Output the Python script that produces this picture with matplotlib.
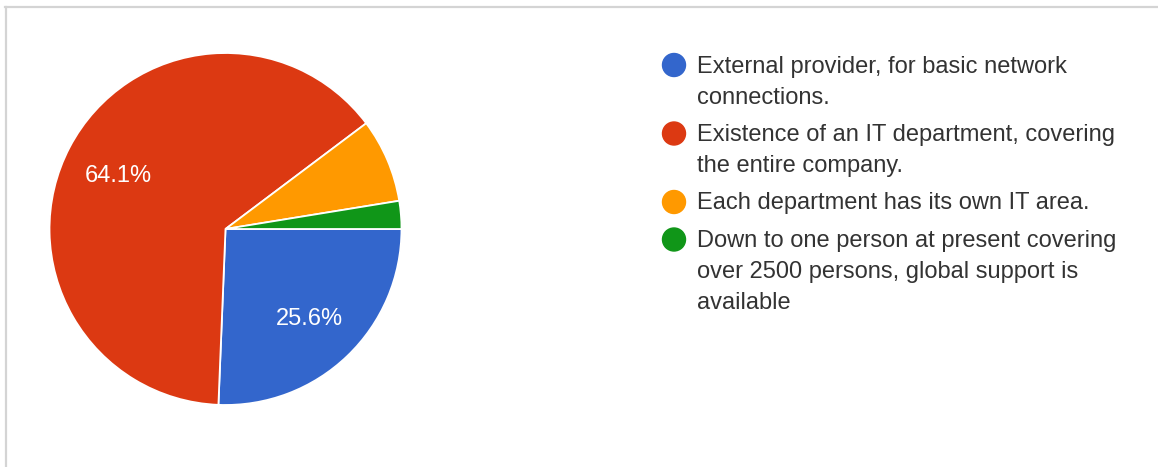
import matplotlib
matplotlib.use('Agg')

import matplotlib.pyplot as plt
import matplotlib.transforms as mtransforms
from matplotlib.lines import Line2D
from matplotlib.patches import Circle

# -------------------------
# Data
# -------------------------
answers = [
    "External provider, for basic network\nconnections.",
    "Existence of an IT department, covering\nthe entire company.",
    "Each department has its own IT area.",
    "Down to one person at present covering\nover 2500 persons, global support is\navailable",
]
responses = [10, 25, 3, 1]
colors = ["#3366cc", "#dc3912", "#ff9900", "#109618"]

plt.rcParams['font.family'] = ['Liberation Sans', 'DejaVu Sans']

W, H = 1158, 467
fig = plt.figure(figsize=(W / 100, H / 100), dpi=100)
fig.patch.set_facecolor("white")

# background layer in pixel coordinates (frame + legend)
bg = fig.add_axes([0, 0, 1, 1])
bg.set_xlim(0, W)
bg.set_ylim(H, 0)
bg.axis("off")

bg.add_line(Line2D([5, W], [7, 7], color="#d4d4d4", linewidth=1.6))
bg.add_line(Line2D([6, 6], [7, H], color="#d4d4d4", linewidth=1.6))

# -------------------------
# Pie
# -------------------------
cx, cy, r = 225.5, 229, 176
ax = fig.add_axes([(cx - r) / W, (H - cy - r) / H, 2 * r / W, 2 * r / H])


def fmt(pct):
    return f"{pct:.1f}%" if pct > 10 else ""


wedges, _, autotexts = ax.pie(
    responses, colors=colors, startangle=0, counterclock=False,
    autopct=fmt, pctdistance=0.685, radius=1,
    wedgeprops=dict(edgecolor="white", linewidth=1.3),
    textprops=dict(color="white", fontsize=17),
)
# nudge the percentage labels down a touch
shift = mtransforms.offset_copy(ax.transData, fig=fig, x=0, y=-3.5, units="dots")
for t in autotexts:
    t.set_transform(shift)

ax.set_xlim(-1, 1)
ax.set_ylim(-1, 1)
ax.set_aspect("equal")
ax.axis("off")

# -------------------------
# Legend
# -------------------------
y = 65
for label, col in zip(answers, colors):
    bg.add_patch(Circle((674, y), 11.5, color=col, zorder=3))
    lines = label.split("\n")
    for i, line in enumerate(lines):
        bg.text(697, y + 1.5 + i * 31, line, fontsize=17, color="#333333",
                va="center", ha="left")
    y += (len(lines) - 1) * 31 + 37.5

plt.savefig("out.png", dpi=100)
